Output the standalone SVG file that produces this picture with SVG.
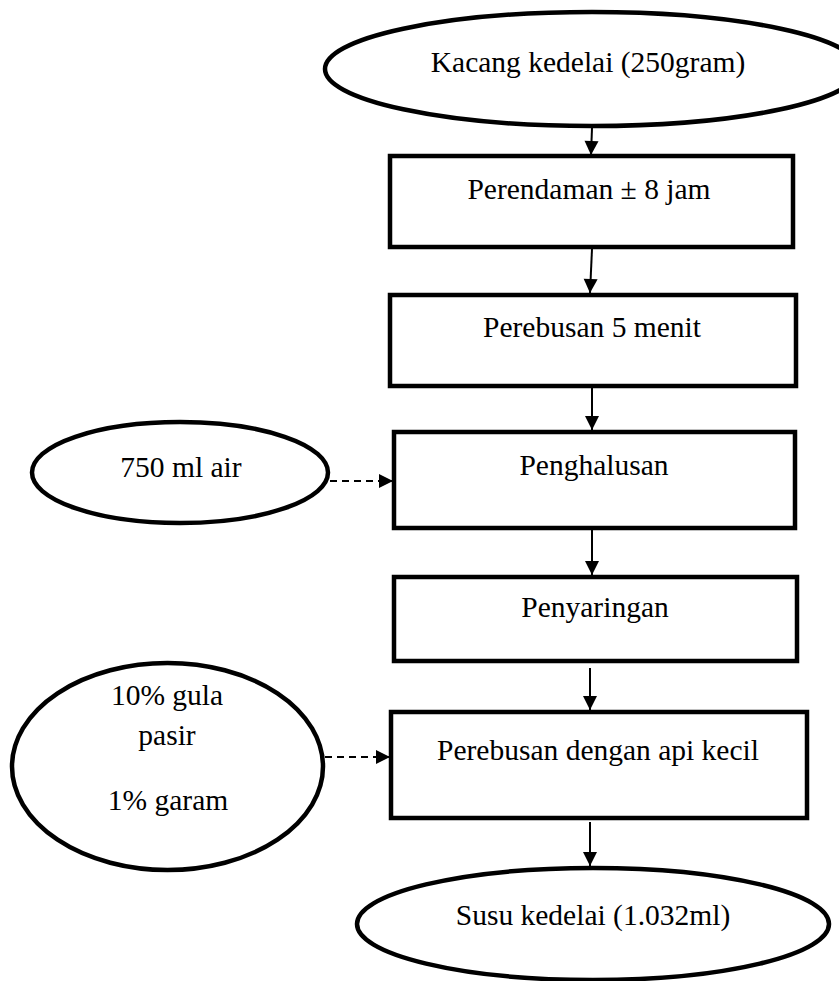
<svg xmlns="http://www.w3.org/2000/svg" width="839" height="981" viewBox="0 0 839 981">
  <defs>
    <style>
      .box { fill: #ffffff; stroke: #000000; stroke-width: 4.5; }
      .oval { fill: #ffffff; stroke: #000000; stroke-width: 4.5; }
      .lbl { font-family: "Liberation Serif", "Times New Roman", serif; font-size: 29.5px; fill: #000000; text-anchor: middle; }
      .conn { stroke: #000000; stroke-width: 2; fill: none; marker-end: url(#arrow); }
      .dash { stroke: #000000; stroke-width: 2.2; fill: none; stroke-dasharray: 7 5; marker-end: url(#arrow); }
    </style>
    <marker id="arrow" markerUnits="userSpaceOnUse" markerWidth="16" markerHeight="16" refX="14" refY="7" orient="auto" overflow="visible">
      <path d="M0,0 L14,7 L0,14 Z" fill="#000000"/>
    </marker>
  </defs>
  <rect x="0" y="0" width="839" height="981" fill="#ffffff"/>

  <g id="connectors">
    <line class="conn" x1="592" y1="128" x2="591" y2="155"/>
    <line class="conn" x1="592" y1="249" x2="590" y2="293"/>
    <line class="conn" x1="592" y1="388" x2="592" y2="430"/>
    <line class="conn" x1="592" y1="530" x2="592" y2="575"/>
    <line class="conn" x1="590" y1="668" x2="590" y2="710"/>
    <line class="conn" x1="590" y1="822" x2="590" y2="866"/>
    <line class="dash" x1="330" y1="481" x2="393" y2="481"/>
    <line class="dash" x1="325" y1="757" x2="390" y2="757"/>
  </g>

  <g id="node-kacang">
    <ellipse class="oval" cx="592" cy="69" rx="267" ry="57"/>
    <text class="lbl" x="588" y="72">Kacang kedelai (250gram)</text>
  </g>

  <g id="node-perendaman">
    <rect class="box" x="390" y="156" width="403" height="91"/>
    <text class="lbl" x="589" y="199">Perendaman ± 8 jam</text>
  </g>

  <g id="node-perebusan5">
    <rect class="box" x="390" y="295" width="406" height="91"/>
    <text class="lbl" x="592" y="337">Perebusan 5 menit</text>
  </g>

  <g id="node-air">
    <ellipse class="oval" cx="180" cy="472.5" rx="148" ry="50.5"/>
    <text class="lbl" x="181" y="477">750 ml air</text>
  </g>

  <g id="node-penghalusan">
    <rect class="box" x="394" y="432" width="401" height="96"/>
    <text class="lbl" x="594" y="475">Penghalusan</text>
  </g>

  <g id="node-penyaringan">
    <rect class="box" x="394" y="577" width="403" height="84"/>
    <text class="lbl" x="595" y="617">Penyaringan</text>
  </g>

  <g id="node-gula">
    <ellipse class="oval" cx="167.5" cy="766.5" rx="155.5" ry="103.5"/>
    <text class="lbl" x="167" y="705">10% gula</text>
    <text class="lbl" x="167" y="745">pasir</text>
    <text class="lbl" x="168" y="810">1% garam</text>
  </g>

  <g id="node-perebusan-api">
    <rect class="box" x="391" y="712" width="416" height="106"/>
    <text class="lbl" x="598" y="760">Perebusan dengan api kecil</text>
  </g>

  <g id="node-susu">
    <ellipse class="oval" cx="593" cy="924" rx="236" ry="56"/>
    <text class="lbl" x="593" y="925">Susu kedelai (1.032ml)</text>
  </g>
</svg>
